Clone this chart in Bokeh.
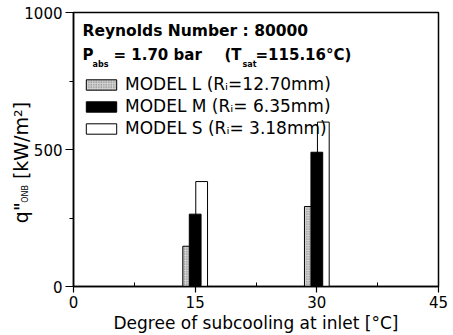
import math
from bokeh.plotting import figure
from bokeh.models import (ColumnDataSource, FixedTicker, Label, Legend, LegendItem, Range1d,
                          LinearAxis)
from bokeh.transform import dodge
from bokeh.embed import file_html
from bokeh.resources import INLINE

# ---- data ----
subcooling = [15, 30]            # degree of subcooling at inlet [°C]
model_L = [147, 292]             # q"_ONB [kW/m2]
model_M = [264, 490]
model_S = [383, 600]
x_ticks = [0, 15, 30, 45]
x_minor = [7.5, 22.5, 37.5]
y_ticks = [0, 500, 1000]
y_minor = [250, 750]
legend_labels = ["MODEL L (R\u1d62=12.70mm)", "MODEL M (R\u1d62= 6.35mm)", "MODEL S (R\u1d62= 3.18mm)"]
title_1 = "Reynolds Number : 80000"
x_title = "Degree of subcooling at inlet [°C]"

# ---- layout (pixels) ----
W, H = 453, 335
FL, FR, FT, FB = 73, 438, 12, 287
XMAX, YMAX = 45, 1000
FONT = "DejaVu Sans"

def dx(px):
    return (px - FL) * XMAX / (FR - FL)

def dy(py):
    return (FB - py) * YMAX / (FB - FT)

p = figure(width=W, height=H, x_range=Range1d(0, XMAX), y_range=Range1d(0, YMAX),
           output_backend="svg", toolbar_location=None,
           min_border_left=FL, min_border_right=W - FR,
           min_border_top=FT, min_border_bottom=H - FB)
p.background_fill_color = "white"
p.border_fill_color = "white"
p.xgrid.visible = False
p.ygrid.visible = False
p.outline_line_color = "black"
p.outline_line_width = 1.5

src = ColumnDataSource(dict(t=subcooling, L=model_L, M=model_M, S=model_S))
BW, OFF = 1.45, 0.8
rL = p.vbar(x=dodge('t', -OFF, range=p.x_range), top='L', width=BW, source=src,
            fill_color="#d2d2d2", hatch_pattern="dot", hatch_color="#6a6a6a", hatch_scale=2.5,
            line_color="black", line_width=1)
rS = p.vbar(x=dodge('t', OFF, range=p.x_range), top='S', width=BW, source=src,
            fill_color="white", line_color="black", line_width=1)
rM = p.vbar(x=dodge('t', 0.0, range=p.x_range), top='M', width=BW, source=src,
            fill_color="black", line_color="black", line_width=1)

# ---- axes ----
for ax in (p.xaxis[0], p.yaxis[0]):
    ax.axis_line_color = "black"
    ax.axis_line_width = 1.5
    ax.major_tick_line_color = "black"
    ax.minor_tick_line_color = "black"
    ax.major_tick_line_width = 1.2
    ax.minor_tick_line_width = 1
    ax.major_label_text_font = FONT
    ax.major_label_text_font_size = "15px"
    ax.major_label_text_color = "black"

p.yaxis.ticker = FixedTicker(ticks=y_ticks, minor_ticks=y_minor)
p.yaxis.major_tick_out = 8
p.yaxis.major_tick_in = 0
p.yaxis.minor_tick_out = 4
p.yaxis.minor_tick_in = 0
p.yaxis.major_label_standoff = 3

p.xaxis.ticker = FixedTicker(ticks=x_ticks, minor_ticks=x_minor)
p.xaxis.major_tick_out = 6
p.xaxis.major_tick_in = 0
p.xaxis.minor_tick_out = 0
p.xaxis.minor_tick_in = 4
p.xaxis.major_label_standoff = 3
p.xaxis.axis_label = x_title
p.xaxis.axis_label_text_font = FONT
p.xaxis.axis_label_text_font_size = "17px"
p.xaxis.axis_label_text_font_style = "normal"
p.xaxis.axis_label_text_color = "black"
p.xaxis.axis_label_standoff = 2

# y-axis title built from pieces: q" + small ONB + [kW/m²], as labels of helper axes
def title_axis(pieces, size, standoff):
    ys = [dy(c) for _, c in pieces]
    ax = LinearAxis(ticker=FixedTicker(ticks=ys, minor_ticks=[]),
                    major_label_overrides={y: t for y, (t, _) in zip(ys, pieces)},
                    major_label_orientation="vertical",
                    major_label_standoff=standoff,
                    major_label_text_font=FONT,
                    major_label_text_font_size=f"{size}px",
                    major_label_text_color="black",
                    axis_line_color=None, major_tick_line_color=None, minor_tick_line_color=None,
                    major_tick_out=0, major_tick_in=0, minor_tick_out=0, minor_tick_in=0)
    p.add_layout(ax, "left")

title_axis([("ONB", 194.0)], 8, -9)
title_axis([('q"', 213.0), ("[kW/m\u00b2]", 140.5)], 19, -14)

# ---- legend ----
legend = Legend(items=[LegendItem(label=legend_labels[0], renderers=[rL]),
                       LegendItem(label=legend_labels[1], renderers=[rM]),
                       LegendItem(label=legend_labels[2], renderers=[rS])],
                location=(9, 148), glyph_width=38, glyph_height=13, label_standoff=5,
                spacing=2, padding=0, margin=0, border_line_alpha=0, background_fill_alpha=0,
                label_text_font=FONT, label_text_font_size="17px", label_text_color="black")
p.add_layout(legend)

def add_text(text, px, py, size, bold=False):
    p.add_layout(Label(x=dx(px), y=dy(py), text=text, text_font=FONT,
                       text_font_size=f"{size}px", text_font_style="bold" if bold else "normal",
                       text_color="black", text_align="left", text_baseline="middle"))

# header lines
add_text(title_1, 82, 31, 15.5, bold=True)
add_text("P", 82, 55, 15, bold=True)
add_text("abs", 92, 64, 8, bold=True)
add_text("= 1.70 bar", 113, 55, 15, bold=True)
add_text("(T", 224, 55, 15, bold=True)
add_text("sat", 242, 64, 8, bold=True)
add_text("=115.16°C)", 255, 55, 15, bold=True)

open("out.html", "w").write(file_html(p, INLINE))
